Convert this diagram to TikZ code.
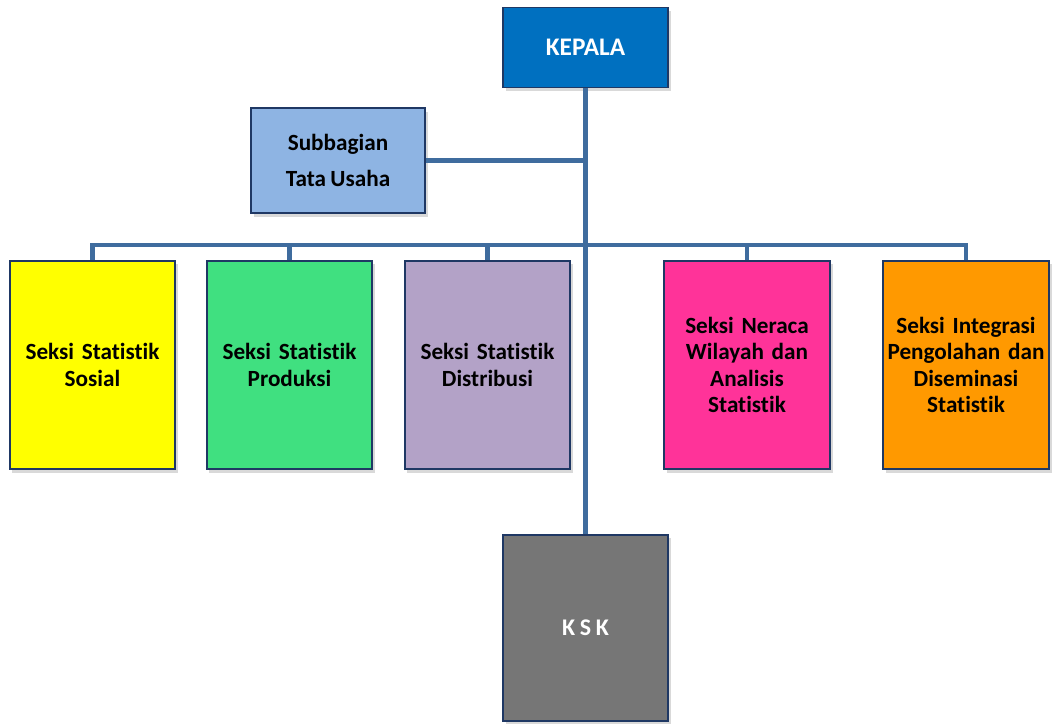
\documentclass[tikz,border=0pt]{standalone}
\usepackage{fontspec}
\setmainfont{Carlito}[Ligatures=NoCommon,WordSpace=0.85]
\usetikzlibrary{positioning,calc,shadows}

\definecolor{boxline}{HTML}{1F3864}
\definecolor{wire}{HTML}{3F6C9E}
\definecolor{kepfill}{HTML}{0070C0}
\definecolor{tufill}{HTML}{8EB4E3}
\definecolor{sosfill}{HTML}{FFFF00}
\definecolor{prodfill}{HTML}{40E080}
\definecolor{distfill}{HTML}{B3A2C7}
\definecolor{nerfill}{HTML}{FF3399}
\definecolor{intfill}{HTML}{FF9900}
\definecolor{kskfill}{HTML}{767676}

\begin{document}
\begin{tikzpicture}[x=0.025cm,y=-0.025cm,
  unit/.style={draw=boxline,line width=1.3pt,inner sep=2pt,align=center,
               font=\bfseries,
               drop shadow={opacity=0.3,shadow xshift=2pt,shadow yshift=-2.5pt}},
  head/.style={unit,minimum width=4.125cm,minimum height=2.0cm,
               font=\bfseries\fontsize{18}{21}\selectfont},
  seksi/.style={unit,minimum width=4.125cm,minimum height=5.2cm,text width=4.0cm,
               font=\bfseries\fontsize{16.5}{18.6}\selectfont},
  wireline/.style={draw=wire,line width=2.9pt}]

  \useasboundingbox (0,0) rectangle (1054,724);

  % top of the chart
  \node[head,fill=kepfill,text=white] (kepala) at (585.5,47.5) {KEPALA};
  \node[head,fill=tufill,minimum width=4.35cm,minimum height=2.625cm,
        font=\bfseries\fontsize{16.5}{25.5}\selectfont] (tu) at (338,160.5)
        {Subbagian\\Tata Usaha};

  % sections
  \node[seksi,fill=sosfill]  (sos)  at (92.5,365)  {Seksi Statistik\\Sosial};
  \node[seksi,fill=prodfill] (prod) at (289.5,365) {Seksi Statistik\\Produksi};
  \node[seksi,fill=distfill] (dist) at (487.5,365) {Seksi Statistik\\Distribusi};
  \node[seksi,fill=nerfill]  (ner)  at (747,365)   {Seksi Neraca\\Wilayah dan\\Analisis\\Statistik};
  \node[seksi,fill=intfill,minimum width=4.1cm] (integ) at (966,365)
        {Seksi Integrasi\\Pengolahan dan\\Diseminasi\\Statistik};

  \node[unit,fill=kskfill,text=white,minimum width=4.125cm,minimum height=4.65cm,
        font=\bfseries\fontsize{17}{20}\selectfont] (ksk) at (585.5,628) {K S K};

  % connectors
  \coordinate (bus) at (0,245);
  \draw[wireline] (kepala.south) -- (ksk.north);
  \draw[wireline] (tu.east) -- (tu.east -| kepala.south);
  \draw[wireline] (sos.north) -- (sos.north |- bus) -- (integ.north |- bus)
     -- (integ.north);
  \draw[wireline] (prod.north) -- (prod.north |- bus);
  \draw[wireline] (dist.north) -- (dist.north |- bus);
  \draw[wireline] (ner.north) -- (ner.north |- bus);
\end{tikzpicture}
\end{document}
